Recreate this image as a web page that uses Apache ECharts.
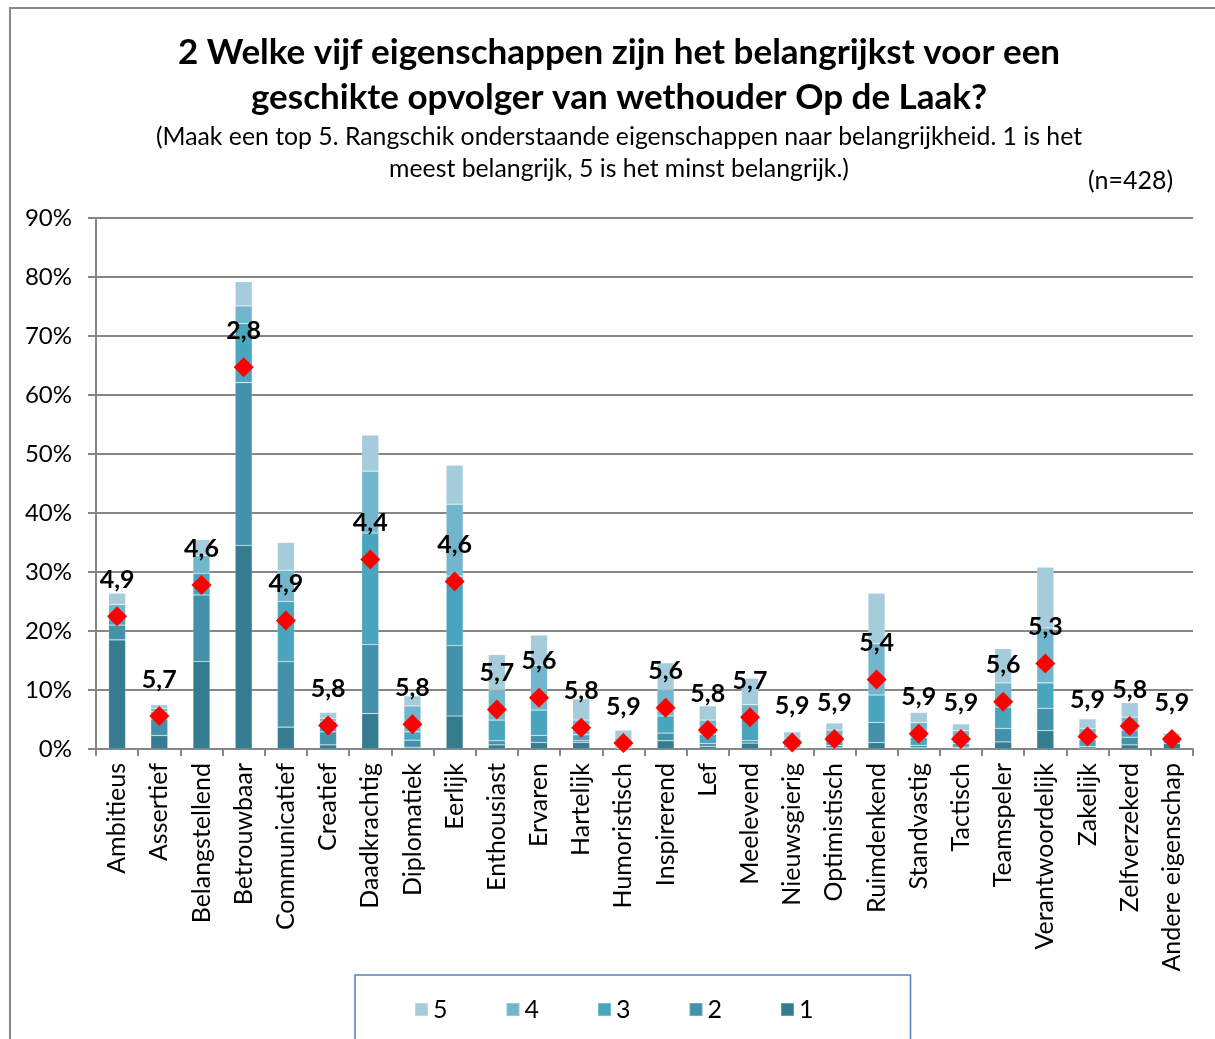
<!DOCTYPE html>
<html>
<head>
<meta charset="utf-8">
<script src="https://cdn.jsdelivr.net/npm/echarts@6/dist/echarts.min.js"></script>
<style>
html,body{margin:0;padding:0;background:#fff;}
#chart{width:1215px;height:1039px;}
</style>
</head>
<body>
<div id="chart"></div>
<script>
const categories = ['Ambitieus','Assertief','Belangstellend','Betrouwbaar','Communicatief','Creatief','Daadkrachtig','Diplomatiek','Eerlijk','Enthousiast','Ervaren','Hartelijk','Humoristisch','Inspirerend','Lef','Meelevend','Nieuwsgierig','Optimistisch','Ruimdenkend','Standvastig','Tactisch','Teamspeler','Verantwoordelijk','Zakelijk','Zelfverzekerd','Andere eigenschap'];
const rank1 = [18.5, 2.3, 14.8, 34.5, 3.7, 0.7, 6.0, 0.3, 5.6, 0.7, 1.1, 1.1, 0.1, 1.4, 0.4, 1.0, 0.1, 0.2, 1.1, 0.2, 0.1, 1.2, 3.1, 0.1, 0.7, 0.9];
const rank2 = [2.5, 2.8, 11.3, 27.6, 11.1, 2.2, 11.7, 1.2, 11.9, 0.7, 1.2, 0.3, 0.1, 1.3, 0.5, 0.4, 0.2, 0.4, 3.4, 0.4, 0.2, 2.3, 3.8, 0.3, 1.3, 0.5];
const rank3 = [1.5, 1.2, 3.7, 10.0, 10.2, 1.8, 18.9, 1.4, 11.8, 3.5, 4.3, 1.0, 0.3, 2.9, 1.6, 3.7, 0.4, 0.8, 4.65, 1.4, 0.6, 3.6, 4.3, 1.2, 1.2, 0.3];
const rank4 = [2.0, 0.6, 3.0, 3.0, 5.3, 0.5, 10.5, 4.4, 12.2, 5.1, 7.6, 2.5, 0.5, 4.4, 2.4, 2.4, 1.0, 1.8, 8.7, 2.5, 2.2, 4.1, 9.3, 1.9, 2.2, 0.4];
const rank5 = [1.9, 0.6, 2.7, 4.1, 4.7, 1.0, 6.1, 1.7, 6.6, 6.0, 5.1, 3.6, 2.2, 4.6, 2.4, 4.5, 1.2, 1.2, 8.55, 1.7, 1.15, 5.8, 10.3, 1.6, 2.45, 0.55];
const diamondPos = [22.5, 5.6, 27.8, 64.7, 21.8, 4.0, 32.1, 4.2, 28.4, 6.7, 8.7, 3.6, 1.0, 7.0, 3.2, 5.4, 1.1, 1.7, 11.8, 2.6, 1.7, 8.0, 14.5, 2.1, 3.9, 1.7];
const meanLabels = ['4,9','5,7','4,6','2,8','4,9','5,8','4,4','5,8','4,6','5,7','5,6','5,8','5,9','5,6','5,8','5,7','5,9','5,9','5,4','5,9','5,9','5,6','5,3','5,9','5,8','5,9'];
const yTicks = [0, 10, 20, 30, 40, 50, 60, 70, 80, 90];
const rankNames = ['1','2','3','4','5'];
const rankColors = ['#357C90','#4391AA','#4AA5BE','#71B6CC','#A5CCDB'];
const rankData = [rank1, rank2, rank3, rank4, rank5];

const FONT = 'Lato, "Liberation Sans", sans-serif';
const chart = echarts.init(document.getElementById('chart'));

const series = rankNames.map((nm, i) => ({
  name: nm,
  type: 'bar',
  stack: 'rank',
  barWidth: 17,
  itemStyle: { color: rankColors[i], borderColor: 'rgba(255,255,255,0.25)', borderWidth: 0.6 },
  data: rankData[i],
  z: 2
}));
series.push({
  name: 'gemiddelde',
  type: 'scatter',
  symbol: 'diamond',
  symbolSize: 20,
  itemStyle: { color: '#FF0000', opacity: 1 },
  data: diamondPos.map((v, i) => ({ value: v, label: { formatter: meanLabels[i] } })),
  label: {
    show: true,
    position: 'top',
    distance: 14,
    fontFamily: FONT,
    fontWeight: 'bold',
    fontSize: 25,
    color: '#000'
  },
  z: 5
});

chart.setOption({
  animation: false,
  backgroundColor: '#fff',
  textStyle: { fontFamily: FONT },
  title: [
    {
      text: '2 Welke vijf eigenschappen zijn het belangrijkst voor een\ngeschikte opvolger van wethouder Op de Laak?',
      left: 614, top: 25, textAlign: 'center',
      textStyle: { fontFamily: FONT, fontWeight: 'bold', fontSize: 35, lineHeight: 45, color: '#000' }
    },
    {
      text: '(Maak een top 5. Rangschik onderstaande eigenschappen naar belangrijkheid. 1 is het\nmeest belangrijk, 5 is het minst belangrijk.)',
      left: 614, top: 116, textAlign: 'center',
      textStyle: { fontFamily: FONT, fontWeight: 'normal', fontSize: 24.8, lineHeight: 32, color: '#000' }
    },
    {
      text: '(n=428)',
      left: 1083, top: 163,
      textStyle: { fontFamily: FONT, fontWeight: 'normal', fontSize: 25, color: '#000' }
    }
  ],
  legend: {
    data: ['5','4','3','2','1'],
    left: 355, top: 975,
    padding: [22, 97, 34, 59],
    borderColor: '#4F81BD', borderWidth: 1.5,
    icon: 'rect', itemWidth: 13, itemHeight: 13, itemGap: 58,
    textStyle: { fontFamily: FONT, fontSize: 25, color: '#000' }
  },
  grid: { left: 96, right: 22, top: 218, bottom: 290, containLabel: false },
  xAxis: {
    type: 'category',
    data: categories,
    axisLine: { lineStyle: { color: '#868686', width: 2 } },
    axisTick: { show: true, alignWithLabel: false, length: 7, lineStyle: { color: '#868686', width: 2 } },
    axisLabel: { rotate: 90, fontFamily: FONT, fontSize: 25, color: '#000', margin: 14, interval: 0 }
  },
  yAxis: {
    type: 'value',
    min: yTicks[0], max: yTicks[yTicks.length - 1], interval: 10,
    axisLine: { show: true, lineStyle: { color: '#868686', width: 2 } },
    axisTick: { show: true, length: 8, lineStyle: { color: '#868686', width: 2 } },
    axisLabel: { formatter: '{value}%', fontFamily: FONT, fontSize: 24, color: '#000', margin: 24 },
    splitLine: { lineStyle: { color: '#868686', width: 2 } }
  },
  graphic: [
    { type: 'rect', shape: { x: 10, y: 8, width: 1220, height: 1100 }, style: { fill: 'none', stroke: '#878787', lineWidth: 2 }, silent: true, z: -1 }
  ],
  series: series
});
</script>
</body>
</html>
